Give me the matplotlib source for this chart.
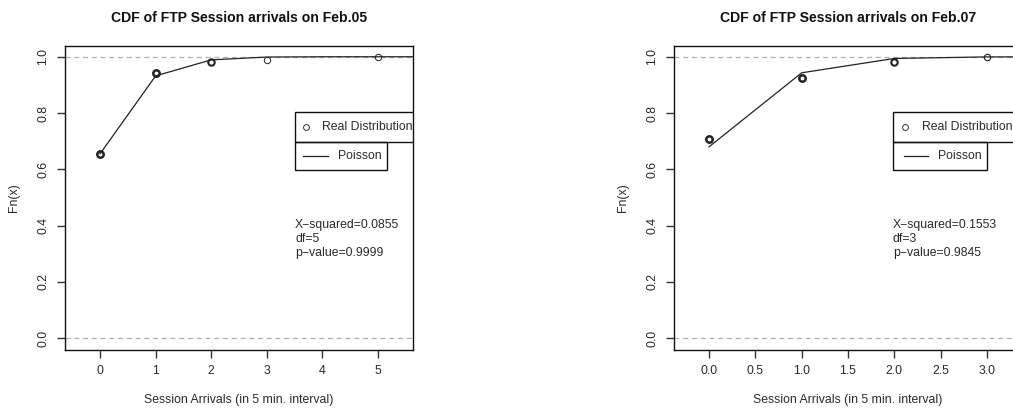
import matplotlib
matplotlib.use("Agg")
import matplotlib.pyplot as plt
from matplotlib.patches import Rectangle
from matplotlib.lines import Line2D

plt.rcParams['font.family'] = ['Liberation Sans', 'DejaVu Sans']

# ---- data ----
titles = ["CDF of FTP Session arrivals on Feb.05", "CDF of FTP Session arrivals on Feb.07"]

real_x_05 = [0, 1, 2, 3, 5]
real_y_05 = [0.655, 0.942, 0.981, 0.990, 1.0]
pois_x_05 = [0, 1, 2, 3, 4, 5, 6]
pois_y_05 = [0.655, 0.932, 0.989, 0.999, 1.0, 1.0, 1.0]

real_x_07 = [0, 1, 2, 3]
real_y_07 = [0.707, 0.924, 0.983, 1.0]
pois_x_07 = [0, 1, 2, 3, 4]
pois_y_07 = [0.680, 0.943, 0.994, 0.9995, 1.0]

xticks_05 = [0, 1, 2, 3, 4, 5]
xticklabels_05 = ["0", "1", "2", "3", "4", "5"]
xticks_07 = [0.0, 0.5, 1.0, 1.5, 2.0, 2.5, 3.0]
xticklabels_07 = ["0.0", "0.5", "1.0", "1.5", "2.0", "2.5", "3.0"]
yticks = [0.0, 0.2, 0.4, 0.6, 0.8, 1.0]
yticklabels = ["0.0", "0.2", "0.4", "0.6", "0.8", "1.0"]

stats_05 = ["X\u2212squared=0.0855", "df=5", "p\u2212value=0.9999"]
stats_07 = ["X\u2212squared=0.1553", "df=3", "p\u2212value=0.9845"]

# marker edge widths (bold = overplotted points)
mew_05 = [1.8, 1.8, 1.5, 0.7, 0.7]
mew_07 = [1.8, 1.8, 1.5, 0.8]

W, H = 1013, 409
fig = plt.figure(figsize=(W / 100, H / 100), dpi=100)

FS = 8.8
TXT = '#2a2a2a'

def make_panel(left_px, xlim, title, rx, ry, mews, px, py, xt, xtl, stats, leg):
    top_px, bot_px = 45.5, 349.5
    ax = fig.add_axes([left_px / W, (H - bot_px) / H, 348 / W, (bot_px - top_px) / H])
    ax.set_xlim(*xlim)
    ax.set_ylim(-0.04, 1.04)
    ax.axhline(0, color='#b0b0b0', lw=0.9, ls=(0, (4, 3)), zorder=1)
    ax.axhline(1, color='#b0b0b0', lw=0.9, ls=(0, (4, 3)), zorder=1)
    ax.plot(px, py, color='#222222', lw=0.9, zorder=3)
    for xv, yv, mw in zip(rx, ry, mews):
        ax.plot([xv], [yv], 'o', ms=4.6, mfc='none', mec='#222222', mew=mw, zorder=4)
    ax.set_xticks(xt)
    ax.set_xticklabels(xtl)
    ax.set_yticks(yticks)
    ax.set_yticklabels(yticklabels, rotation=90, va='center')
    ax.tick_params(direction='out', length=5.5, width=1, colors='#333333',
                   labelcolor=TXT, labelsize=FS, pad=6)
    for s in ax.spines.values():
        s.set_linewidth(1.0)
        s.set_color('#111111')
    ax.set_title(title, fontsize=10.1, fontweight='bold', color='#111111', pad=17)
    ax.set_xlabel("Session Arrivals (in 5 min. interval)", fontsize=FS, color=TXT, labelpad=12)
    ax.set_ylabel("Fn(x)", fontsize=FS, color=TXT, labelpad=12)

    bx0, b2x1, mx, tx1, lx0, lx1, tx2 = leg
    yt, ym, yb = 0.780, 0.681, 0.589
    r1 = Rectangle((bx0, ym), 0.6, yt - ym, transform=ax.transAxes, fill=False,
                   ec='#111111', lw=1.0, zorder=5)
    ax.add_patch(r1)
    r2 = Rectangle((bx0, yb), b2x1 - bx0, ym - yb, transform=ax.transAxes, fill=False,
                   ec='#111111', lw=1.0, zorder=5)
    ax.add_patch(r2)
    ax.plot([mx], [(yt + ym) / 2], 'o', ms=4.2, mfc='none', mec='#333333', mew=0.7,
            transform=ax.transAxes, zorder=6)
    ax.text(tx1, (yt + ym) / 2, "Real Distribution", transform=ax.transAxes, fontsize=FS,
            color=TXT, va='center', ha='left', clip_on=True)
    ax.add_line(Line2D([lx0, lx1], [(ym + yb) / 2] * 2, transform=ax.transAxes,
                       color='#222222', lw=0.9))
    ax.text(tx2, (ym + yb) / 2, "Poisson", transform=ax.transAxes, fontsize=FS,
            color=TXT, va='center', ha='left')
    sx = bx0
    for line, yy in zip(stats, [0.411, 0.362, 0.319]):
        ax.text(sx, yy, line, transform=ax.transAxes, fontsize=FS, color=TXT,
                va='center', ha='left')
    return ax

make_panel(65, (-0.63, 5.63), titles[0], real_x_05, real_y_05, mew_05,
           pois_x_05, pois_y_05, xticks_05, xticklabels_05, stats_05,
           (0.661, 0.925, 0.692, 0.739, 0.684, 0.756, 0.785))
make_panel(674, (-0.378, 3.378), titles[1], real_x_07, real_y_07, mew_07,
           pois_x_07, pois_y_07, xticks_07, xticklabels_07, stats_07,
           (0.629, 0.899, 0.664, 0.713, 0.662, 0.729, 0.760))

fig.savefig("out.png", dpi=100, facecolor='white')
